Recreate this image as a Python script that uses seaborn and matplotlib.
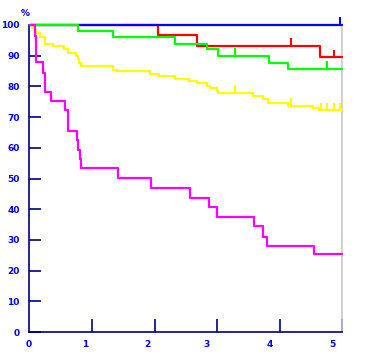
import numpy as np
import pandas as pd
import matplotlib
matplotlib.use("Agg")
import matplotlib.pyplot as plt
import seaborn as sns

# ---- data ----
groups = ["red", "blue", "green", "yellow", "magenta"]

red_t = [0, 2.06, 2.67, 4.65, 5.0]
red_s = [100, 96.7, 93.2, 89.5, 89.5]
red_cens = [4.18, 4.86]

blue_t = [0, 5.0]
blue_s = [100, 100]
blue_cens = [4.97]

green_t = [0, 0.78, 1.34, 2.32, 2.83, 3.02, 3.83, 4.13, 5.0]
green_s = [100, 98.1, 96.0, 93.9, 92.1, 89.9, 87.7, 85.8, 85.8]
green_cens = [3.28, 4.75]

yellow_t = [0, 0.04, 0.08, 0.11, 0.17, 0.245, 0.37, 0.55, 0.62, 0.74, 0.77, 0.79,
            0.82, 1.335, 1.40, 1.93, 2.07, 2.32, 2.55, 2.67, 2.83, 2.88, 2.99,
            3.02, 3.58, 3.73, 3.81, 4.13, 4.53, 4.62, 5.0]
yellow_s = [100, 99.0, 98.0, 97.3, 96.2, 93.8, 93.2, 92.1, 90.8, 89.9, 88.8, 87.7,
            86.6, 85.5, 85.0, 84.2, 83.4, 82.5, 81.8, 81.0, 80.2, 79.4, 78.6,
            77.7, 76.9, 75.9, 74.7, 73.6, 72.9, 72.2, 72.2]
yellow_cens = [3.28, 4.18, 4.66, 4.75, 4.86, 4.96]

magenta_t = [0, 0.08, 0.10, 0.22, 0.24, 0.35, 0.565, 0.61, 0.76, 0.78, 0.81, 0.825,
             1.42, 1.94, 2.56, 2.87, 3.00, 3.59, 3.74, 3.80, 4.54, 5.0]
magenta_s = [100, 96.5, 87.8, 84.5, 78.3, 75.3, 72.2, 65.6, 62.4, 59.4, 56.2, 53.3,
             50.2, 46.8, 43.7, 40.6, 37.6, 34.6, 31.0, 28.1, 25.3, 25.3]
magenta_cens = []

y_ticks = [0, 10, 20, 30, 40, 50, 60, 70, 80, 90, 100]
x_ticks = [1, 2, 3, 4, 5]
x_labels = ["0", "1", "2", "3", "4", "5"]

colors = {"red": "#FF0000", "blue": "#0000FF", "green": "#00FF00",
          "yellow": "#FFFF00", "magenta": "#FF00FF"}

curves = {"red": (red_t, red_s, red_cens), "blue": (blue_t, blue_s, blue_cens),
          "green": (green_t, green_s, green_cens),
          "yellow": (yellow_t, yellow_s, yellow_cens),
          "magenta": (magenta_t, magenta_s, magenta_cens)}

rows, crow = [], []
for g in groups:
    t, s, c = curves[g]
    for a, b in zip(t, s):
        rows.append((g, a, b))
    for ct in c:
        idx = np.searchsorted(t, ct, side="right") - 1
        crow.append((g, ct, s[idx]))
df = pd.DataFrame(rows, columns=["group", "time", "surv"])
cdf = pd.DataFrame(crow, columns=["group", "time", "surv"])

# ---- figure ----
sns.set_style("white")
fig = plt.figure(figsize=(3.65, 3.63), dpi=100)
ax = fig.add_axes([28.6 / 365, 1 - 332 / 363, (342.3 - 28.6) / 365, (332 - 25) / 363])

sns.lineplot(data=df, x="time", y="surv", hue="group", hue_order=groups,
             palette=colors, drawstyle="steps-post", estimator=None, sort=False,
             legend=False, linewidth=1.6, ax=ax, clip_on=False, zorder=3)
sns.scatterplot(data=cdf, x="time", y="surv", hue="group", hue_order=groups,
                palette=colors, marker=2, s=30, linewidth=1.5, legend=False,
                ax=ax, clip_on=False, zorder=4)

ax.set_xlim(0, 5)
ax.set_ylim(0, 100)
ax.set_xlabel("")
ax.set_ylabel("")

navy = "#000080"
blue = "#0000FF"
for side in ["left", "bottom"]:
    ax.spines[side].set_color(navy)
    ax.spines[side].set_linewidth(1.2)
ax.spines["top"].set_visible(False)
ax.spines["right"].set_color("#C8C8C8")
ax.spines["right"].set_linewidth(1.2)

ax.set_yticks(y_ticks)
ax.set_yticklabels([str(v) for v in y_ticks])
ax.tick_params(axis="y", left=True, direction="in", length=8.6, width=1.2,
               color=navy, labelcolor=blue, labelsize=6.5, pad=6.5)
for lab in ax.get_yticklabels():
    lab.set_fontweight("bold")

ax.set_xticks(x_ticks)
ax.set_xticklabels([])
ax.tick_params(axis="x", which="major", bottom=True, direction="in",
               length=9.4, width=1.2, color=navy)
label_pos = [-0.015, 0.888, 1.884, 2.834, 3.845, 4.834]
ax.set_xticks(label_pos, minor=True)
ax.set_xticklabels(x_labels, minor=True)
ax.tick_params(axis="x", which="minor", bottom=True, length=0, labelcolor=blue,
               labelsize=6.5, pad=6)
for lab in ax.get_xticklabels(minor=True):
    lab.set_fontweight("bold")

fig.text(25.5 / 365, 1 - 13 / 363, "%", color=blue, fontsize=6.5,
         fontweight="bold", ha="center", va="center")

fig.savefig("out.png", dpi=100, facecolor="white")
